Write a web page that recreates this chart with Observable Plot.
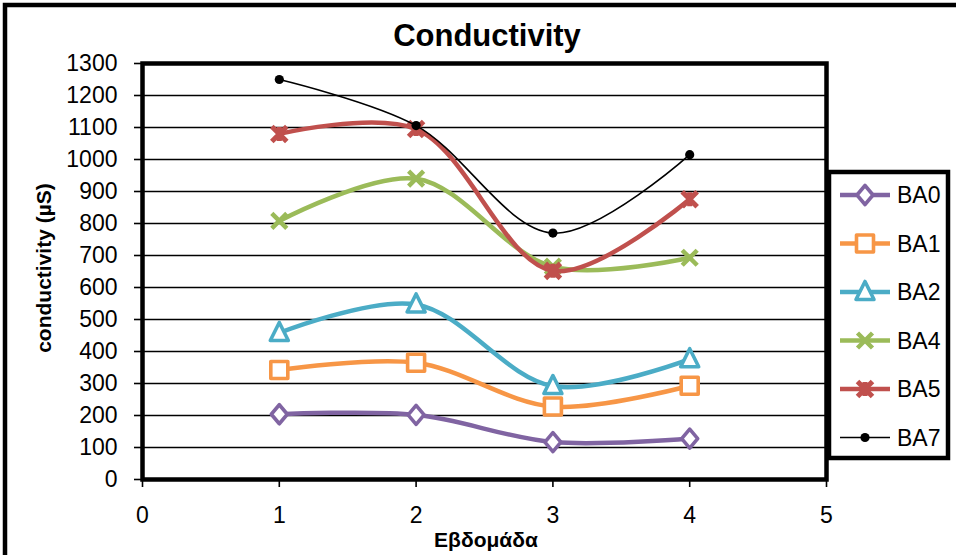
<!DOCTYPE html>
<html>
<head>
<meta charset="utf-8">
<script src="https://cdn.jsdelivr.net/npm/d3@7"></script>
<script src="https://cdn.jsdelivr.net/npm/@observablehq/plot@0.6"></script>
<style>
  html, body { margin: 0; padding: 0; background: #fff; }
  svg { display: block; }
</style>
</head>
<body>
<div id="chart"></div>
<script>
// ---- data ----
const weeks = [1, 2, 3, 4];
const seriesNames = ["BA0", "BA1", "BA2", "BA4", "BA5", "BA7"];
const BA0 = [204, 202, 117, 128];
const BA1 = [342, 365, 228, 293];
const BA2 = [458, 547, 292, 376];
const BA4 = [808, 940, 665, 693];
const BA5 = [1080, 1095, 652, 876];
const BA7 = [1250, 1106, 770, 1015];
const xTicks = [0, 1, 2, 3, 4, 5];
const yTicks = [0, 100, 200, 300, 400, 500, 600, 700, 800, 900, 1000, 1100, 1200, 1300];
const gridValues = [100, 200, 300, 400, 500, 600, 700, 800, 900, 1000, 1100, 1200];
const titleText = "Conductivity";
const xLabel = "Εβδομάδα";
const yLabel = "conductivity (µS)";

// ---- styling ----
const colors = ["#8064A2", "#F79646", "#4BACC6", "#9BBB59", "#C0504D", "#000000"];
const lineWidths = [4.5, 4.5, 4.5, 4.5, 4.5, 1.6];

const symDiamond = {draw(c) { c.moveTo(0, -9.5); c.lineTo(8, 0); c.lineTo(0, 9.5); c.lineTo(-8, 0); c.closePath(); }};
const symSquare = {draw(c) { c.moveTo(-8.5, -8.5); c.lineTo(8.5, -8.5); c.lineTo(8.5, 8.5); c.lineTo(-8.5, 8.5); c.closePath(); }};
const symTriangle = {draw(c) { c.moveTo(0, -10.5); c.lineTo(9, 7.5); c.lineTo(-9, 7.5); c.closePath(); }};
const symTimes = {draw(c) { c.moveTo(-7.5, -7.5); c.lineTo(7.5, 7.5); c.moveTo(7.5, -7.5); c.lineTo(-7.5, 7.5); }};
const symStar = {draw(c) { c.moveTo(-7.5, -7.5); c.lineTo(7.5, 7.5); c.moveTo(7.5, -7.5); c.lineTo(-7.5, 7.5); c.moveTo(0, -7); c.lineTo(0, 7); }};
const symDot = {draw(c) { c.moveTo(4.6, 0); c.arc(0, 0, 4.6, 0, 2 * Math.PI); }};
const symbols = [symDiamond, symSquare, symTriangle, symTimes, symStar, symDot];
const fills = ["#fff", "#fff", "#fff", "none", "none", "#000"];
const symStroke = [3.6, 3.6, 3.6, 4.5, 5, 0];

const values = [BA0, BA1, BA2, BA4, BA5, BA7];
const data = seriesNames.flatMap((s, i) => weeks.map((w, j) => ({series: s, week: w, value: values[i][j]})));

const seriesMarks = seriesNames.flatMap((s, i) => {
  const d = data.filter(r => r.series === s);
  return [
    Plot.line(d, {x: "week", y: "value", stroke: colors[i], strokeWidth: lineWidths[i], curve: "catmull-rom", strokeLinejoin: "round", strokeLinecap: "round"}),
    Plot.dot(d, {x: "week", y: "value", symbol: symbols[i], r: 8, stroke: colors[i], fill: fills[i], strokeWidth: symStroke[i], strokeLinejoin: "round"})
  ];
});

const svg = Plot.plot({
  width: 956,
  height: 555,
  marginLeft: 142,
  marginRight: 130,
  marginTop: 63,
  marginBottom: 76,
  style: {fontFamily: "'Liberation Sans', Arial, sans-serif", fontSize: "23px", color: "#000", background: "#fff", overflow: "visible"},
  x: {domain: [0, 5], label: null},
  y: {domain: [0, 1300], label: null},
  marks: [
    Plot.ruleY(gridValues, {stroke: "#000", strokeWidth: 1.6}),
    Plot.axisY({ticks: yTicks, tickFormat: "d", tickSize: 8, tickPadding: 17, strokeWidth: 1.6, label: null, fontSize: 23}),
    Plot.axisX({ticks: xTicks, tickFormat: "d", tickSize: 8, tickPadding: 19, strokeWidth: 1.6, label: null, fontSize: 23}),
    Plot.frame({stroke: "#000", strokeWidth: 4.5}),
    ...seriesMarks
  ]
});
document.getElementById("chart").appendChild(svg);

// ---- decorations: outer border, title, axis titles, legend ----
const S = d3.select(svg);
S.insert("rect", ":first-child")
  .attr("x", 5).attr("y", 5).attr("width", 1200).attr("height", 1000)
  .attr("fill", "none").attr("stroke", "#000").attr("stroke-width", 4.5);

S.append("text").attr("x", 487).attr("y", 46).attr("text-anchor", "middle")
  .attr("font-weight", "bold").attr("font-size", 31).attr("fill", "#000").text(titleText);
S.append("text").attr("x", 486).attr("y", 547).attr("text-anchor", "middle")
  .attr("font-weight", "bold").attr("font-size", 21).attr("fill", "#000").text(xLabel);
S.append("text").attr("transform", "translate(51,268) rotate(-90)").attr("text-anchor", "middle")
  .attr("font-weight", "bold").attr("font-size", 21).attr("fill", "#000").text(yLabel);

const lg = S.append("g");
lg.append("rect").attr("x", 829).attr("y", 172).attr("width", 119).attr("height", 286)
  .attr("fill", "#fff").attr("stroke", "#000").attr("stroke-width", 4.5);
seriesNames.forEach((s, i) => {
  const y = 195 + i * 48.5;
  lg.append("line").attr("x1", 840).attr("x2", 890).attr("y1", y).attr("y2", y)
    .attr("stroke", colors[i]).attr("stroke-width", lineWidths[i]);
  const p = d3.path();
  symbols[i].draw(p);
  lg.append("path").attr("d", p.toString()).attr("transform", `translate(865,${y})`)
    .attr("fill", fills[i]).attr("stroke", colors[i]).attr("stroke-width", symStroke[i]).attr("stroke-linejoin", "round");
  lg.append("text").attr("x", 897).attr("y", y).attr("dy", "0.36em").attr("text-anchor", "start")
    .attr("font-size", 23).attr("fill", "#000").text(s);
});
</script>
</body>
</html>
